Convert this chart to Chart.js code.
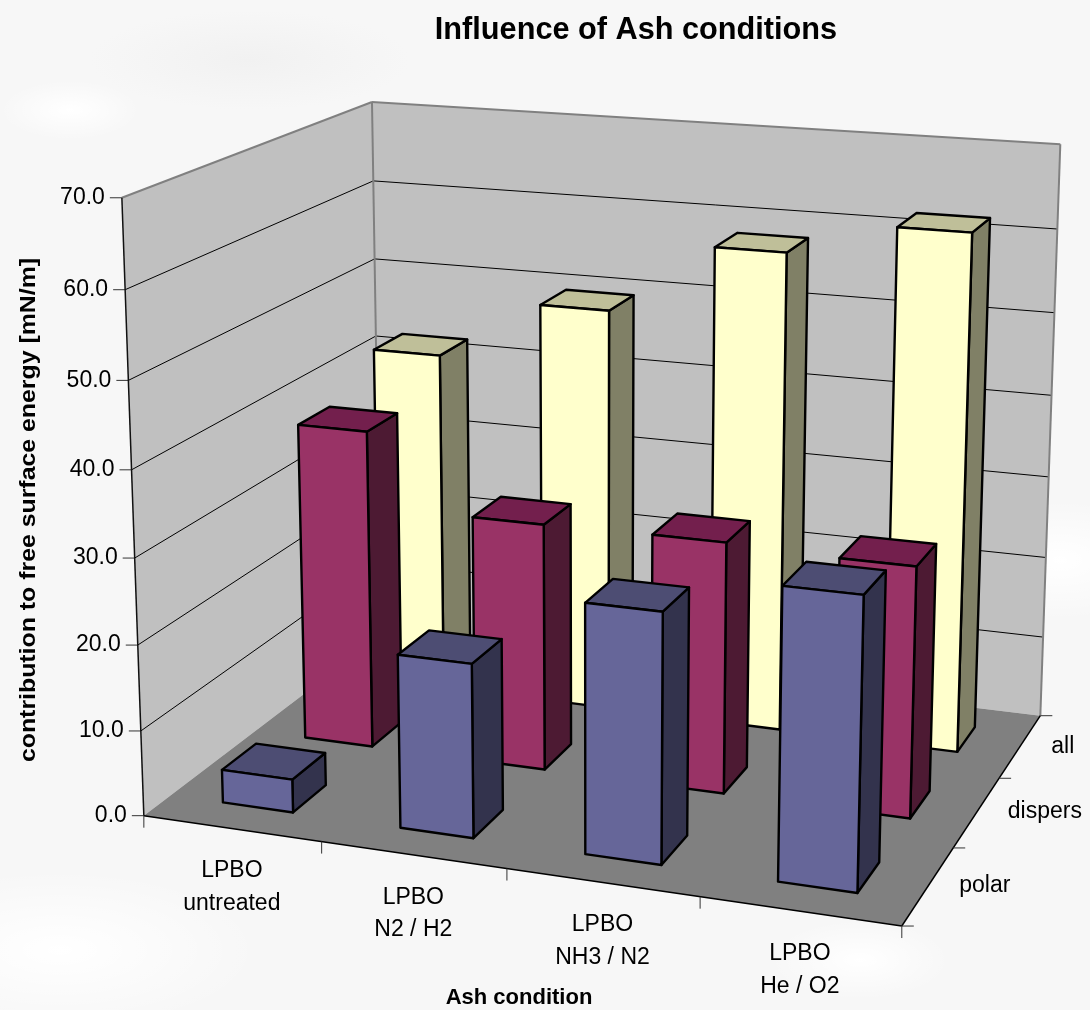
<!DOCTYPE html>
<html><head><meta charset="utf-8">
<script src="https://cdn.jsdelivr.net/npm/chart.js@4"></script>
<style>
html,body{margin:0;padding:0;width:1090px;height:1010px;overflow:hidden;background-color:#f7f7f7;
background-image:
 radial-gradient(ellipse 90px 40px at 860px 960px,#ffffff 0,#f7f7f700 100%),
 radial-gradient(ellipse 120px 60px at 1060px 560px,#ffffff 0,#f7f7f700 100%),
 radial-gradient(ellipse 70px 30px at 70px 110px,#ffffff 0,#f7f7f700 100%),
 radial-gradient(ellipse 160px 50px at 250px 60px,#f1f1f1 0,#f7f7f700 100%),
 radial-gradient(ellipse 200px 80px at 60px 950px,#ffffff 0,#f7f7f700 100%);}
canvas{display:block}
</style></head><body>
<canvas id="c" width="1090" height="1010"></canvas>
<script>
const categories=[['LPBO','untreated'],['LPBO','N2 / H2'],['LPBO','NH3 / N2'],['LPBO','He / O2']];
const seriesNames=['polar','dispers','all'];
const polar=[3.9,20.1,28.5,32.8];
const dispers=[38.4,29.5,29.7,29.3];
const all=[42.3,49.6,58.2,62.1];
const yMin=0,yMax=70,yStep=10;
const chartTitle='Influence of Ash conditions';
const yTitle='contribution to free surface energy [mN/m]';
const xTitle='Ash condition';
const faceColors={polar:['#666699','#33334d','#4d4d73'],dispers:['#993366','#4d1a33','#731f4d'],all:['#ffffcc','#808066','#bfbf99']};

/* projection of the unit box onto the page, fitted to the box corners */
const fit=[[0,0,0,144,816],[1,0,0,902,926],[1,1,0,1040,717],[0,1,0,380,635],[0,0,1,121,198],[0,1,1,373,102],[1,1,1,1060,144],
[.25,0,0,323,842],[.5,0,0,506,868],[.75,0,0,700,897],[1,1/3,0,953,847],[1,2/3,0,1000,778]];
function solveP(){
 const n=11,A=Array.from({length:n},()=>new Array(n+1).fill(0));
 const add=(r,b)=>{for(let i=0;i<n;i++){for(let j=0;j<n;j++)A[i][j]+=r[i]*r[j];A[i][n]+=r[i]*b;}};
 for(const [x,y,z,u,v] of fit){
  add([x,y,z,1,0,0,0,0,-u*x,-u*y,-u*z],u);
  add([0,0,0,0,x,y,z,1,-v*x,-v*y,-v*z],v);
 }
 for(let i=0;i<n;i++){
  let m=i;for(let k=i+1;k<n;k++)if(Math.abs(A[k][i])>Math.abs(A[m][i]))m=k;
  [A[i],A[m]]=[A[m],A[i]];
  for(let k=0;k<n;k++){if(k===i)continue;const f=A[k][i]/A[i][i];for(let j=i;j<=n;j++)A[k][j]-=f*A[i][j];}
 }
 return A.map((r,i)=>r[n]/r[i]);
}
const P=solveP();
function proj(x,y,z){const w=P[8]*x+P[9]*y+P[10]*z+1;return [(P[0]*x+P[1]*y+P[2]*z+P[3])/w,(P[4]*x+P[5]*y+P[6]*z+P[7])/w];}
function poly(ctx,pts,fill,stroke,lw){ctx.beginPath();pts.forEach((p,i)=>i?ctx.lineTo(p[0],p[1]):ctx.moveTo(p[0],p[1]));ctx.closePath();
 if(fill){ctx.fillStyle=fill;ctx.fill();}
 if(stroke){ctx.strokeStyle=stroke;ctx.lineWidth=lw;ctx.lineJoin='round';ctx.stroke();}}
function seg(ctx,a,b,c,lw){ctx.beginPath();ctx.moveTo(a[0],a[1]);ctx.lineTo(b[0],b[1]);ctx.strokeStyle=c;ctx.lineWidth=lw;ctx.stroke();}
const BAR=0.4;
const FONT='"Liberation Sans", Arial, sans-serif';
function U(s,i){return (s.getPixelForValue(i)-s.left)/s.width;}
function W(s,val){return (s.bottom-s.getPixelForValue(val))/s.height;}

/* each bar is drawn as a cuboid through the projected scales */
Chart.registry.getController('bar').prototype.draw=function(){
 const ctx=this._ctx,chart=this.chart,xS=chart.scales.x,zS=chart.scales.z,yS=chart.scales.y;
 const bw=BAR/categories.length,bd=BAR/seriesNames.length,cols=faceColors[seriesNames[this.index]];
 const cy=U(zS,this.index),y0=cy-bd/2,y1=cy+bd/2;
 this._cachedMeta.data.forEach((el,i)=>{
  const cx=U(xS,i),top=W(yS,this.getParsed(i).y),x0=cx-bw/2,x1=cx+bw/2;
  ctx.save();
  poly(ctx,[proj(x1,y0,0),proj(x1,y1,0),proj(x1,y1,top),proj(x1,y0,top)],cols[1],'#000',2.4);
  poly(ctx,[proj(x0,y0,top),proj(x1,y0,top),proj(x1,y1,top),proj(x0,y1,top)],cols[2],'#000',2.4);
  poly(ctx,[proj(x0,y0,0),proj(x1,y0,0),proj(x1,y0,top),proj(x0,y0,top)],cols[0],'#000',2.4);
  ctx.restore();
 });
};

const box3d={id:'box3d',
 beforeDatasetsDraw(chart){
  const ctx=chart.ctx,xS=chart.scales.x,yS=chart.scales.y,zS=chart.scales.z;
  ctx.save();
  const A=proj(0,0,0),B=proj(1,0,0),C=proj(1,1,0),D=proj(0,1,0),E=proj(0,0,1),F=proj(0,1,1),G=proj(1,1,1);
  poly(ctx,[A,D,F,E],'#c0c0c0');
  poly(ctx,[D,C,G,F],'#c0c0c0');
  poly(ctx,[A,B,C,D],'#808080');
  // gridlines and value ticks
  ctx.font='23px '+FONT;ctx.fillStyle='#000';ctx.textAlign='right';ctx.textBaseline='middle';
  yS.ticks.forEach(t=>{
   const w=W(yS,t.value),a=proj(0,0,w),b=proj(0,1,w),d=proj(1,1,w);
   if(t.value>yMin&&t.value<yMax){seg(ctx,a,b,'#000',1);seg(ctx,b,d,'#000',1);}
   seg(ctx,[a[0]-12,a[1]],a,'#333',1);
   ctx.fillStyle='#000';ctx.fillText(t.label,a[0]-17,a[1]);
  });
  // wall rims
  seg(ctx,E,F,'#808080',2);seg(ctx,F,G,'#808080',2);seg(ctx,F,D,'#808080',2);seg(ctx,G,C,'#808080',2);
  seg(ctx,A,E,'#111',1.5);seg(ctx,A,B,'#000',1.5);seg(ctx,B,C,'#000',1.5);
  // category ticks and labels
  const nC=categories.length,nS=seriesNames.length;
  for(let i=0;i<=nC;i++){const p=proj(i/nC,0,0);seg(ctx,p,[p[0],p[1]+12],'#333',1);}
  for(let i=0;i<=nS;i++){const p=proj(1,i/nS,0);seg(ctx,p,[p[0]+12,p[1]],'#333',1);}
  ctx.fillStyle='#000';ctx.textAlign='center';
  xS.getLabels().forEach((lab,i)=>{
   const p=proj(U(xS,i),0,0);
   lab.forEach((ln,k)=>ctx.fillText(ln,p[0],p[1]+42.5+k*32.5));
  });
  ctx.textAlign='left';
  zS.getLabels().forEach((lab,i)=>{
   const p=proj(1,U(zS,i),0);ctx.fillText(lab,p[0]+31,p[1]);
  });
  // axis titles
  ctx.font='bold 22px '+FONT;ctx.textAlign='center';
  ctx.fillText(xTitle,519,998);
  ctx.save();ctx.translate(29,510);ctx.rotate(-Math.PI/2);ctx.scale(1.13,1);ctx.fillText(yTitle,0,0);ctx.restore();
  ctx.restore();
 }};

new Chart(document.getElementById('c'),{
 type:'bar',
 data:{labels:categories,datasets:[
  {label:seriesNames[0],data:polar,clip:false,backgroundColor:faceColors.polar[0]},
  {label:seriesNames[1],data:dispers,clip:false,backgroundColor:faceColors.dispers[0]},
  {label:seriesNames[2],data:all,clip:false,backgroundColor:faceColors.all[0]}]},
 plugins:[box3d],
 options:{responsive:false,animation:false,
  layout:{padding:{left:182,top:0,right:0,bottom:60}},
  plugins:{legend:{display:false},tooltip:{enabled:false},
   title:{display:true,fullSize:false,text:chartTitle,color:'#000',font:{family:FONT,size:30.7,weight:'bold'},padding:{top:12,bottom:10}}},
  scales:{
   x:{display:false,type:'category',labels:categories},
   z:{display:false,type:'category',axis:'x',position:'bottom',labels:seriesNames},
   y:{display:false,type:'linear',min:yMin,max:yMax,ticks:{stepSize:yStep,callback:v=>v.toFixed(1)}}
  }}
});
</script></body></html>
